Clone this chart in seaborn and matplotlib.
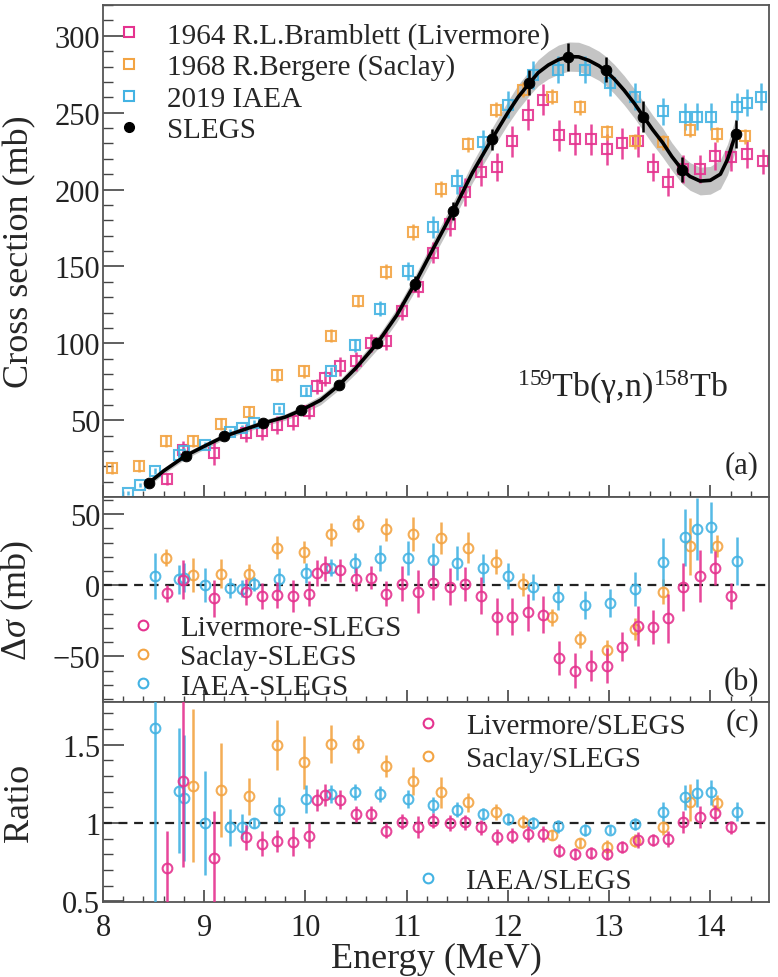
import numpy as np
import matplotlib
matplotlib.use("Agg")
import matplotlib.pyplot as plt
from matplotlib.lines import Line2D
from matplotlib.ticker import MultipleLocator
import seaborn as sns
import pandas as pd

# ---------------- data ----------------
# SLEGS
slegs_E = [8.45, 8.82, 9.20, 9.58, 9.96, 10.33, 10.71, 11.08, 11.46, 11.84, 12.21, 12.59, 12.97, 13.34, 13.72, 14.25]
slegs_y = [9.2, 26.7, 39.6, 48.1, 56.5, 72.7, 99.9, 138.7, 186.0, 232.6, 269.6, 286.4, 278.0, 247.5, 213.0, 236.0]
slegs_err = [2, 2, 2, 2, 2, 2.5, 3, 5, 6, 7, 8, 9, 8, 10, 8, 9]

# fit curve
curve_E = [8.45, 8.6, 8.82, 9.0, 9.2, 9.4, 9.58, 9.8, 9.96, 10.15, 10.33, 10.5, 10.71, 10.9, 11.08,
           11.25, 11.46, 11.65, 11.84, 12.0, 12.1, 12.21, 12.3, 12.4, 12.5, 12.6, 12.7, 12.8, 12.9,
           12.97, 13.05, 13.15, 13.25, 13.34, 13.43, 13.53, 13.62, 13.72, 13.8, 13.9, 14.0, 14.1,
           14.17, 14.25]
curve_y = [9, 17, 27, 33, 39.5, 44, 48, 52, 56.5, 63, 72.7, 84, 100, 118, 138.7, 160, 186, 211,
           232.6, 250, 260, 269, 276, 281, 284.5, 286.5, 286.3, 284, 280.5, 277, 272, 264.5, 256,
           247.5, 239, 230.5, 221.5, 213, 208.5, 205.5, 206, 210, 219.5, 236]
band_w = [2, 2, 2, 2, 2, 2, 2, 2, 2.5, 3, 3, 3.5, 4, 4.5, 5, 5.5, 6, 6.5, 7, 7.5, 8, 8, 8.5, 9,
          9.5, 9.5, 9.5, 9.5, 9.5, 9.5, 9.5, 9.5, 9.5, 9.5, 9.5, 9.5, 9, 9, 9, 9, 9, 9.5, 10, 10.5]

# 1964 Livermore
liv_E = [8.63, 8.79, 9.10, 9.41, 9.57, 9.72, 9.88, 10.04, 10.11, 10.19, 10.34, 10.50, 10.65, 10.80,
         10.95, 11.11, 11.26, 11.43, 11.58, 11.73, 11.89, 12.04, 12.20, 12.35, 12.51, 12.66, 12.82,
         12.98, 13.13, 13.29, 13.43, 13.58, 13.73, 13.90, 14.05, 14.20, 14.36, 14.52]
liv_y = [11.8, 30.6, 28.6, 41.6, 42.9, 46.8, 49.4, 55.8, 72.0, 77.2, 85.0, 88.2, 100.0, 101.8,
         121.0, 136.8, 159.0, 177.6, 198.3, 211.3, 214.5, 231.3, 248.8, 258.5, 235.2, 232.6, 232.6,
         226.2, 230.0, 231.3, 214.5, 204.8, 213.2, 213.2, 221.6, 221.0, 223.0, 218.4]
liv_err = [4, 6, 8, 6, 6, 6, 6, 5, 5, 5, 6, 6, 6, 6, 6, 7, 7, 8, 9, 9, 9, 10, 10, 10, 10, 10, 10,
           10, 10, 10, 9, 9, 9, 9, 9, 9, 9, 8]
liv_diff = [-5.6, 4.0, -9.0, -4.7, -7.5, -6.8, -7.5, -5.8, 8.4, 11.9, 10.5, 4.2, 5.4, -5.8, 1.2,
            -4.4, 1.9, -1.2, 0.7, -7.5, -22.1, -22.1, -19.1, -20.7, -51.0, -59.9, -56.4, -56.4,
            -43.1, -28.4, -29.1, -23.3, -1.2, 6.5, 12.4, -7.5]
liv_diff_err = [6, 14, 13, 9, 9, 9, 11, 9, 9, 9, 8, 8, 8, 9, 12, 15, 12, 13, 12, 13, 13, 13, 13,
                13, 12, 12, 11, 12, 10, 14, 12, 17, 17, 18, 12, 9]
liv_ratio = [0.71, 1.27, 0.777, 0.909, 0.866, 0.883, 0.881, 0.919, 1.147, 1.181, 1.149, 1.057,
             1.057, 0.951, 1.009, 0.977, 1.015, 1.0, 1.004, 0.972, 0.909, 0.919, 0.93, 0.93,
             0.823, 0.802, 0.809, 0.802, 0.845, 0.891, 0.891, 0.898, 1.004, 1.036, 1.062, 0.972]
liv_ratio_err = [0.24, 0.55, 0.3, 0.08, 0.08, 0.07, 0.09, 0.08, 0.07, 0.07, 0.06, 0.05, 0.05,
                 0.05, 0.05, 0.07, 0.05, 0.05, 0.05, 0.05, 0.05, 0.05, 0.05, 0.05, 0.04, 0.04,
                 0.04, 0.04, 0.04, 0.05, 0.04, 0.05, 0.07, 0.07, 0.05, 0.04]

# 1968 Saclay
sac_E = [8.09, 8.36, 8.62, 8.89, 9.17, 9.44, 9.72, 9.99, 10.25, 10.52, 10.80, 11.06, 11.34, 11.61,
         11.88, 12.15, 12.44, 12.71, 12.98, 13.26, 13.53, 13.80, 14.07, 14.34]
sac_y = [18.9, 20.2, 36.4, 36.4, 47.4, 55.2, 79.1, 81.7, 105.0, 127.7, 146.5, 172.4, 200.3, 229.4,
         252.0, 265.0, 260.5, 253.4, 237.2, 231.3, 230.7, 239.0, 236.0, 234.6]
sac_err = [4, 4, 4, 4, 4, 4, 4, 4, 4, 4, 5, 5, 5, 5, 5, 5, 5, 5, 5, 5, 5, 5, 5, 5]
sac_diff = [19.3, 7.2, 8.2, 7.7, 26.3, 23.3, 35.7, 43.1, 39.2, 36.1, 33.3, 26.3, 16.6, 0.7,
            -22.6, -37.8, -45.5, -30.8, -4.4, 27.5, 27.5]
sac_diff_err = [6, 12, 10, 7, 8, 8, 8, 6, 8, 12, 11, 11, 9, 8, 6, 6, 7, 8, 9, 20, 8]
sac_ratio = [1.238, 1.213, 1.17, 1.498, 1.387, 1.504, 1.504, 1.362, 1.27, 1.196, 1.132, 1.068,
             1.009, 0.923, 0.872, 0.849, 0.887, 0.972, 1.132, 1.128]
sac_ratio_err = [0.49, 0.3, 0.12, 0.16, 0.17, 0.12, 0.06, 0.07, 0.09, 0.1, 0.06, 0.05, 0.04,
                 0.03, 0.03, 0.04, 0.04, 0.05, 0.12, 0.05]

# 2019 IAEA
iaea_E = [8.25, 8.37, 8.51, 8.75, 8.80, 9.01, 9.25, 9.37, 9.49, 9.74, 10.01, 10.25, 10.49, 10.74,
          11.01, 11.26, 11.50, 11.75, 12.00, 12.25, 12.50, 12.76, 13.01, 13.26, 13.53, 13.75,
          13.87, 14.01, 14.26, 14.36, 14.50]
iaea_y = [2.7, 7.9, 17.0, 27.3, 30.0, 33.8, 42.2, 45.0, 48.1, 57.1, 68.8, 81.7, 98.6, 122.5, 147.0,
          175.6, 205.4, 230.7, 255.3, 274.7, 278.0, 278.0, 269.6, 260.5, 250.8, 247.5, 247.5,
          247.5, 254.0, 256.6, 260.5]
iaea_err = [1.5, 1.5, 2, 2, 2, 2, 2, 2, 2, 2, 3, 3, 4, 5, 6, 7, 8, 8, 9, 9, 9, 9, 9, 9, 9, 9, 9,
            9, 9, 9, 9]
iaea_diff = [6.5, 4.2, 5.4, 0.0, -2.1, -2.5, 0.7, 4.2, 8.9, 12.4, 15.9, 19.3, 19.3, 17.7, 15.9,
             11.9, 6.5, -1.2, -8.6, -14.0, -12.4, -2.8, 16.3, 33.8, 39.6, 40.8, 17.0]
iaea_diff_err = [16, 10, 10, 12, 7, 6, 5, 8, 7, 6, 7, 9, 12, 12, 12, 10, 9, 9, 9, 10, 10, 12,
                 17, 20, 22, 18, 17]
iaea_ratio = [1.606, 1.206, 1.16, 1.0, 0.972, 0.977, 1.0, 1.085, 1.153, 1.185, 1.196, 1.185,
              1.153, 1.115, 1.085, 1.057, 1.026, 1.0, 0.979, 0.955, 0.957, 0.994, 1.072, 1.164,
              1.191, 1.196, 1.072]
iaea_ratio_err = [1.2, 0.4, 0.4, 0.33, 0.12, 0.08, 0.03, 0.08, 0.09, 0.06, 0.05, 0.05, 0.06,
                  0.05, 0.05, 0.04, 0.04, 0.04, 0.04, 0.04, 0.03, 0.04, 0.06, 0.08, 0.09, 0.08,
                  0.06]

# labels
legend_a = ["1964 R.L.Bramblett (Livermore)", "1968 R.Bergere (Saclay)", "2019 IAEA", "SLEGS"]
legend_b = ["Livermore-SLEGS", "Saclay-SLEGS", "IAEA-SLEGS"]
legend_c = ["Livermore/SLEGS", "Saclay/SLEGS", "IAEA/SLEGS"]

# ---------------- style ----------------
C_LIV = "#e5338f"
C_SAC = "#f3a443"
C_IAEA = "#43b3e3"
SERIF = ["Liberation Serif", "DejaVu Serif"]

sns.set_theme(style="ticks")
plt.rcParams["font.family"] = SERIF
plt.rcParams["mathtext.fontset"] = "custom"
plt.rcParams["mathtext.rm"] = "Liberation Serif"
plt.rcParams["mathtext.it"] = "Liberation Serif:italic"
plt.rcParams["mathtext.bf"] = "Liberation Serif:bold"
plt.rcParams["axes.edgecolor"] = "#555555"
plt.rcParams["axes.linewidth"] = 1.3

fig = plt.figure(figsize=(7.78, 9.78), dpi=100)
L, W = 0.1324, 0.856
ax_a = fig.add_axes([L, 0.4908, W, 0.5030])
ax_b = fig.add_axes([L, 0.2812, W, 0.2096], sharex=ax_a)
ax_c = fig.add_axes([L, 0.0767, W, 0.2045], sharex=ax_a)

ekw = dict(ls="none", capsize=0, elinewidth=1.8, mew=1.5, mfc="none", ms=7, alpha=0.9)

# ---------- panel (a) ----------
cE = np.array(curve_E); cy = np.array(curve_y); bw = np.array(band_w)
ax_a.fill_between(cE, cy - bw, cy + bw, color="#c4c4c4", lw=0, zorder=1)
ax_a.errorbar(liv_E, liv_y, yerr=liv_err, marker="s", color=C_LIV, zorder=2, **ekw)
ax_a.errorbar(sac_E, sac_y, yerr=sac_err, marker="s", color=C_SAC, zorder=2, **ekw)
ax_a.errorbar(iaea_E, iaea_y, yerr=iaea_err, marker="s", color=C_IAEA, zorder=2, **ekw)
sns.lineplot(x=curve_E, y=curve_y, ax=ax_a, color="black", lw=2.6, zorder=3, sort=False)
ax_a.errorbar(slegs_E, slegs_y, yerr=slegs_err, ls="none", color="black", elinewidth=1.8,
              capsize=0, zorder=4)
sns.scatterplot(data=pd.DataFrame({"E": slegs_E, "y": slegs_y}), x="E", y="y", ax=ax_a,
                color="black", s=60, edgecolor="black", zorder=5)
ax_a.set_ylim(0, 320)
ax_a.set_ylabel("Cross section (mb)", fontsize=26, labelpad=4)
ax_a.set_xlabel("")
ax_a.yaxis.set_major_locator(MultipleLocator(50))
ax_a.yaxis.set_minor_locator(MultipleLocator(10))
ax_a.set_yticks([50, 100, 150, 200, 250, 300])

hdl_a = [Line2D([], [], ls="none", marker="s", mfc="none", mec=C_LIV, mew=1.5, ms=7),
         Line2D([], [], ls="none", marker="s", mfc="none", mec=C_SAC, mew=1.5, ms=7),
         Line2D([], [], ls="none", marker="s", mfc="none", mec=C_IAEA, mew=1.5, ms=7),
         Line2D([], [], ls="none", marker="o", color="black", ms=7)]
ax_a.legend(hdl_a, legend_a, loc="upper left", bbox_to_anchor=(0.0, 0.99), frameon=False,
            fontsize=21, handlelength=1.0, handletextpad=0.8, labelspacing=0.17,
            borderaxespad=0.2, borderpad=0.2)
ax_a.text(0.78, 0.225, r"$^{159}$Tb(γ,n)$^{158}$Tb", transform=ax_a.transAxes, fontsize=24.5,
          ha="center", va="center")
ax_a.text(0.985, 0.065, "(a)", transform=ax_a.transAxes, fontsize=22, ha="right", va="center")

# ---------- panel (b) ----------
okw = dict(ls="none", capsize=0, elinewidth=1.8, mew=1.5, mfc="none", ms=7, marker="o", alpha=0.9)
ax_b.axhline(0, color="#222222", ls=(0, (4, 3)), lw=1.6, zorder=1)
ax_b.errorbar(sac_E[2:2 + len(sac_diff)], sac_diff, yerr=sac_diff_err, color=C_SAC, zorder=2, **okw)
ax_b.errorbar(iaea_E[2:2 + len(iaea_diff)], iaea_diff, yerr=iaea_diff_err, color=C_IAEA, zorder=3, **okw)
ax_b.errorbar(liv_E[:len(liv_diff)], liv_diff, yerr=liv_diff_err, color=C_LIV, zorder=4, **okw)
ax_b.set_ylim(-82, 62)
ax_b.set_yticks([-50, 0, 50])
ax_b.yaxis.set_minor_locator(MultipleLocator(10))
ax_b.set_ylabel(r"$\Delta\sigma$ (mb)", fontsize=26, labelpad=4)
hdl_o = [Line2D([], [], ls="none", marker="o", mfc="none", mec=c, mew=1.5, ms=7)
         for c in (C_LIV, C_SAC, C_IAEA)]
ax_b.legend(hdl_o, legend_b, loc="lower left", bbox_to_anchor=(0.02, -0.045), frameon=False,
            fontsize=21, handlelength=1.0, handletextpad=0.8, labelspacing=0.1,
            borderaxespad=0.2, borderpad=0.2)
ax_b.text(0.985, 0.1, "(b)", transform=ax_b.transAxes, fontsize=22, ha="right", va="center")

# ---------- panel (c) ----------
ax_c.axhline(1, color="#222222", ls=(0, (4, 3)), lw=1.6, zorder=1)
ax_c.errorbar(sac_E[3:3 + len(sac_ratio)], sac_ratio, yerr=sac_ratio_err, color=C_SAC, zorder=2, **okw)
ax_c.errorbar(iaea_E[2:2 + len(iaea_ratio)], iaea_ratio, yerr=iaea_ratio_err, color=C_IAEA, zorder=3, **okw)
ax_c.errorbar(liv_E[:len(liv_ratio)], liv_ratio, yerr=liv_ratio_err, color=C_LIV, zorder=4, **okw)
ax_c.set_ylim(0.495, 1.773)
ax_c.set_yticks([0.5, 1, 1.5])
ax_c.set_yticklabels(["0.5", "1", "1.5"])
ax_c.yaxis.set_minor_locator(MultipleLocator(0.1))
ax_c.set_ylabel("Ratio", fontsize=26, labelpad=4)
ax_c.set_xlabel("Energy (MeV)", fontsize=26, labelpad=0)
leg1 = ax_c.legend(hdl_o[:2], legend_c[:2], loc="upper left", bbox_to_anchor=(0.449, 1.005),
                   frameon=False, fontsize=21, handlelength=1.0, handletextpad=0.8,
                   labelspacing=0.22, borderaxespad=0.2, borderpad=0.2)
ax_c.add_artist(leg1)
ax_c.legend(hdl_o[2:], legend_c[2:], loc="lower left", bbox_to_anchor=(0.449, -0.02),
            frameon=False, fontsize=21, handlelength=1.0, handletextpad=0.8,
            borderaxespad=0.2, borderpad=0.2)
ax_c.text(0.985, 0.9, "(c)", transform=ax_c.transAxes, fontsize=22, ha="right", va="center")

# ---------- shared axis style ----------
ax_a.set_xlim(8, 14.58)
ax_c.xaxis.set_major_locator(MultipleLocator(1))
ax_c.xaxis.set_minor_locator(MultipleLocator(0.2))
for ax in (ax_a, ax_b, ax_c):
    ax.tick_params(axis="both", which="both", direction="in", colors="#444444",
                   labelcolor="#222222", top=False, right=False)
    ax.tick_params(axis="y", which="major", length=15, width=1.2, labelsize=22, pad=2)
    ax.tick_params(axis="y", which="minor", length=7, width=1.0)
    ax.tick_params(axis="x", which="major", length=9, width=1.2, labelsize=22, pad=8)
    ax.tick_params(axis="x", which="minor", length=4.5, width=1.0)
    for s in ax.spines.values():
        s.set_visible(True)
for ax in (ax_a, ax_b):
    ax.tick_params(axis="x", labelbottom=False)
for ax in (ax_a, ax_b, ax_c):
    ax.yaxis.set_label_coords(-0.1, 0.5)

fig.savefig("out.png", dpi=100)
